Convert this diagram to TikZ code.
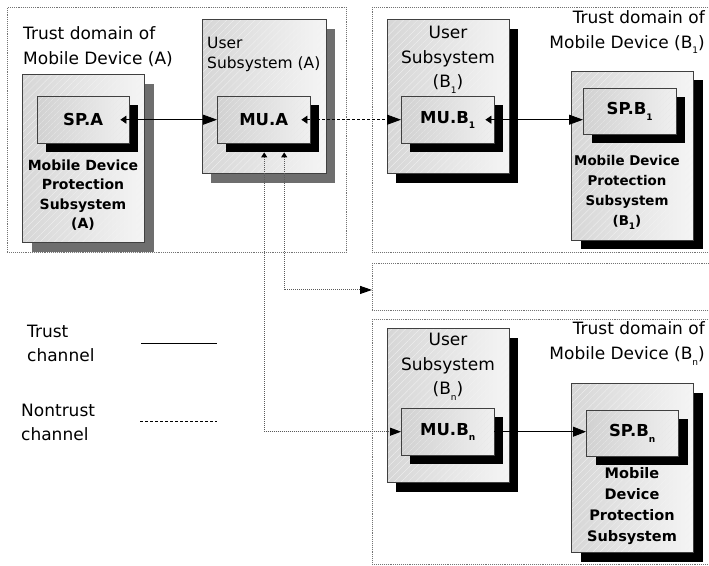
\documentclass[tikz,border=0pt]{standalone}
\usepackage{fontspec}
\setmainfont{DejaVu Sans}
\usetikzlibrary{arrows.meta,patterns.meta,calc}
\newcommand\subsc[1]{\raisebox{-0.6ex}{\fontsize{9}{9}\selectfont #1}}
\newcommand\shbox[7]{\fill[#7] ({#1+#5},{#2+#6}) rectangle ++(#3,#4);}
\tikzset{
 trustdom/.style={draw=black!55, line width=0.9pt, densely dotted, inner sep=0pt, anchor=north west},
 outerbox/.style={left color=black!16, right color=black!4, inner sep=0pt, anchor=north west,
   postaction={pattern={Lines[angle=45,distance=5pt,line width=0.3pt]}, pattern color=black!5},
   postaction={draw=black!75, line width=0.7pt}},
 innerbox/.style={left color=black!18, right color=black!6, inner sep=0pt, anchor=north west,
   postaction={pattern={Lines[angle=45,distance=4pt,line width=0.3pt]}, pattern color=black!9},
   postaction={draw=black!75, line width=0.7pt}},
 lbl/.style={inner sep=0pt, font=\fontsize{17}{25}\selectfont},
 blbl/.style={inner sep=0pt, align=center, font=\bfseries\fontsize{14}{19.5}\selectfont},
 boxlbl/.style={font=\bfseries\fontsize{16.5}{20}\selectfont},
 trust/.style={line width=0.8pt, black},
 nontrust/.style={line width=0.8pt, black, dash pattern=on 3pt off 2pt},
 nontrustg/.style={line width=1pt, black!65, densely dotted},
 bigtip/.style={-{Triangle[length=13pt,width=10pt]}},
 tips/.style={{Triangle[length=6pt,width=8pt]}-{Triangle[length=14pt,width=10pt]}},
}
\begin{document}
\begin{tikzpicture}[x=1pt,y=-1pt]
\useasboundingbox (0,0) rectangle (709,565);
\clip (0,0) rectangle (709,565);
\fill[white] (0,0) rectangle (709,565);

% domains
\node[trustdom, minimum width=339pt, minimum height=245pt] (domA) at (7,7) {};
\node[trustdom, minimum width=350pt, minimum height=245pt] (domB1) at (372,7) {};
\node[trustdom, minimum width=350pt, minimum height=47pt] (mid) at (372,263) {};
\node[trustdom, minimum width=350pt, minimum height=245pt] (domBn) at (372,319) {};

% domain A
\shbox{22}{74}{122}{168}{10}{10}{black!57}
\node[outerbox, minimum width=122pt, minimum height=168pt] (mdpsA) at (22,74) {};
\shbox{37}{96}{92}{47}{9}{9}{black}
\node[innerbox, boxlbl, minimum width=92pt, minimum height=47pt] (spA) at (37,96) {SP.A};
\shbox{202}{19}{124}{154}{9}{10}{black!57}
\node[outerbox, minimum width=124pt, minimum height=154pt] (usA) at (202,19) {};
\shbox{217}{96}{93}{47}{9}{9}{black}
\node[innerbox, boxlbl, minimum width=93pt, minimum height=47pt] (muA) at (217,96) {MU.A};

% domain B1
\shbox{387}{19}{122}{154}{9}{10}{black}
\node[outerbox, minimum width=122pt, minimum height=154pt] (usB1) at (387,19) {};
\shbox{401}{96}{93}{47}{9}{9}{black}
\node[innerbox, boxlbl, minimum width=93pt, minimum height=47pt] (muB1) at (401,96) {MU.B\subsc{1}};
\shbox{571}{71}{122}{169}{10}{9}{black}
\node[outerbox, minimum width=122pt, minimum height=169pt] (mdpsB1) at (571,71) {};
\shbox{583}{88}{93}{46}{9}{9}{black}
\node[innerbox, boxlbl, minimum width=93pt, minimum height=46pt] (spB1) at (583,88) {SP.B\subsc{1}};

% domain Bn
\shbox{387}{328}{122}{154}{9}{10}{black}
\node[outerbox, minimum width=122pt, minimum height=154pt] (usBn) at (387,328) {};
\shbox{401}{408}{93}{47}{9}{9}{black}
\node[innerbox, boxlbl, minimum width=93pt, minimum height=47pt] (muBn) at (401,408) {MU.B\subsc{n}};
\shbox{571}{383}{122}{169}{10}{10}{black}
\node[outerbox, minimum width=122pt, minimum height=169pt] (mdpsBn) at (571,383) {};
\shbox{586}{410}{92}{46}{10}{9}{black}
\node[innerbox, boxlbl, minimum width=92pt, minimum height=46pt] (spBn) at (586,410) {SP.B\subsc{n}};

% labels
\node[lbl, align=left, anchor=north west] (tA) at (23,26.3) {Trust domain of\\Mobile Device (A)};
\node[lbl, align=left, anchor=north west, font=\fontsize{15.5}{20}\selectfont] (uA) at (207,37) {User\\Subsystem (A)};
\node[blbl, anchor=north] (pA) at (83,159.5) {Mobile Device\\Protection\\Subsystem\\(A)};

\node[lbl, align=right, anchor=north east] (tB1) at (705,10.3) {Trust domain of\\Mobile Device (B\subsc{1})};
\node[lbl, align=center, anchor=north, font=\fontsize{17}{24.5}\selectfont] (uB1) at (448,26.3) {User\\Subsystem\\(B\subsc{1})};
\node[blbl, anchor=north, font=\bfseries\fontsize{13.4}{20}\selectfont] (pB1) at (627,154.7) {Mobile Device\\Protection\\Subsystem\\(B\subsc{1})};

\node[lbl, align=right, anchor=north east] (tBn) at (705,321.3) {Trust domain of\\Mobile Device (B\subsc{n})};
\node[lbl, align=center, anchor=north, font=\fontsize{17}{24.5}\selectfont] (uBn) at (448,333.3) {User\\Subsystem\\(B\subsc{n})};
\node[blbl, anchor=north, font=\bfseries\fontsize{14.5}{21}\selectfont] (pBn) at (632,467.3) {Mobile\\Device\\Protection\\Subsystem};

% legend
\node[lbl, align=left, anchor=north west, font=\fontsize{17}{24}\selectfont] (lT) at (27,325.3) {Trust\\channel};
\node[lbl, align=left, anchor=north west, font=\fontsize{17}{24}\selectfont] (lN) at (21,404.3) {Nontrust\\channel};
\coordinate (t1) at (141,343);
\coordinate (t2) at (217,343);
\coordinate (n1) at (140,421);
\coordinate (n2) at (217,421);
\draw[trust] (t1) -- (t2);
\draw[nontrust] (n1) -- (n2);

% connectors
\draw[trust, tips, shorten <=-9pt] (spA.east) -- (muA.west);
\draw[nontrust, tips, shorten <=-9pt] (muA.east) -- (muB1.west);
\draw[trust, tips, shorten <=-9pt] (muB1.east) -- (muB1.east -| spB1.west);
\draw[trust, bigtip] (muBn.east) -- (muBn.east -| spBn.west);
\draw[nontrustg, {Triangle[length=5pt,width=6pt,color=black]}-{Triangle[length=11pt,width=8pt,color=black]}]
  ($(muA.south)+(0.5,9)$) |- (muBn.west);
\draw[nontrustg, {Triangle[length=5pt,width=6pt,color=black]}-{Triangle[length=12pt,width=8pt,color=black]}]
  ($(muA.south)+(20.5,9)$) |- ($(mid.west)+(0,3)$);
\end{tikzpicture}
\end{document}
